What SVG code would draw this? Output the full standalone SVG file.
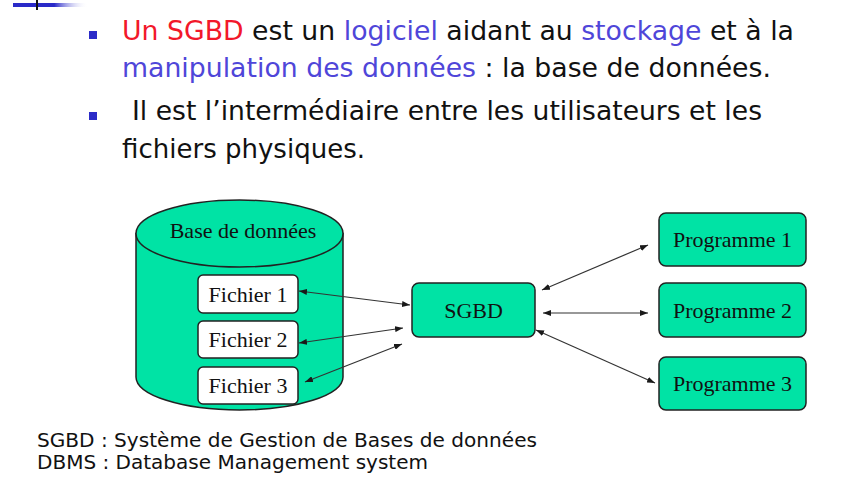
<svg xmlns="http://www.w3.org/2000/svg" width="848" height="488" viewBox="0 0 848 488">
<defs>
  <linearGradient id="barGrad" x1="0" y1="0" x2="1" y2="0">
    <stop offset="0" stop-color="#2a2ac8"/>
    <stop offset="0.55" stop-color="#2a2ac8"/>
    <stop offset="1" stop-color="#ffffff" stop-opacity="0"/>
  </linearGradient>
  <marker id="ah" viewBox="0 0 8 6" markerWidth="8" markerHeight="6" refX="8" refY="3" orient="auto-start-reverse" markerUnits="userSpaceOnUse">
    <path d="M0,0 L8,3 L0,6 Z" fill="#1a1a1a"/>
  </marker>
</defs>
<style>
  .slide { font-family: "DejaVu Sans", "Liberation Sans", sans-serif; font-size: 27px; fill: #111; }
  .hl { fill: #4f46d9; }
  .red { fill: #f2182a; }
  .bullet { fill: #2c2cc8; }
  .node { fill: #00e3a5; stroke: #222; stroke-width: 1.5; }
  .file { fill: #ffffff; stroke: #222; stroke-width: 1.5; }
  .lbl { font-family: "Liberation Serif", "Times New Roman", serif; font-size: 22px; fill: #111; text-anchor: middle; }
  .conn line { stroke: #333; stroke-width: 1.2; marker-start: url(#ah); marker-end: url(#ah); }
  .foot { font-family: "DejaVu Sans", "Liberation Sans", sans-serif; font-size: 19px; fill: #111; }
</style>
<rect width="848" height="488" fill="#ffffff"/>

<!-- slide decoration -->
<rect x="13" y="3" width="75" height="4" fill="url(#barGrad)"/>
<rect x="36" y="0" width="2" height="10" fill="#111"/>

<!-- bullet text -->
<rect class="bullet" x="89" y="31" width="8" height="8"/>
<text class="slide" x="122" y="40" textLength="672" lengthAdjust="spacingAndGlyphs"><tspan class="red">Un SGBD</tspan> est un <tspan class="hl">logiciel</tspan> aidant au <tspan class="hl">stockage</tspan> et à la</text>
<text class="slide" x="122" y="77" textLength="649" lengthAdjust="spacingAndGlyphs"><tspan class="hl">manipulation des données</tspan> : la base de données.</text>
<rect class="bullet" x="89" y="112" width="8" height="8"/>
<text class="slide" x="132" y="120" textLength="630" lengthAdjust="spacingAndGlyphs">Il est l’intermédiaire entre les utilisateurs et les</text>
<text class="slide" x="122" y="158" textLength="243" lengthAdjust="spacingAndGlyphs">fichiers physiques.</text>

<!-- database cylinder -->
<g id="base-de-donnees">
  <path class="node" d="M136,233.5 V377 A103.5,33 0 0 0 343,377 V233.5 Z"/>
  <ellipse class="node" cx="239.5" cy="233.5" rx="103.5" ry="33.5"/>
  <text class="lbl" x="243" y="238">Base de données</text>
</g>
<g id="fichier1">
  <rect class="file" x="198" y="275" width="100" height="38" rx="5"/>
  <text class="lbl" x="248" y="302">Fichier 1</text>
</g>
<g id="fichier2">
  <rect class="file" x="198" y="321" width="100" height="37" rx="5"/>
  <text class="lbl" x="248" y="347">Fichier 2</text>
</g>
<g id="fichier3">
  <rect class="file" x="198" y="367" width="100" height="37" rx="5"/>
  <text class="lbl" x="248" y="393">Fichier 3</text>
</g>

<g id="sgbd">
  <rect class="node" x="412" y="283" width="123" height="54" rx="7"/>
  <text class="lbl" x="473.5" y="318">SGBD</text>
</g>
<g id="programme1">
  <rect class="node" x="659" y="213" width="147" height="53" rx="7"/>
  <text class="lbl" x="732.5" y="247">Programme 1</text>
</g>
<g id="programme2">
  <rect class="node" x="659" y="283" width="147" height="54" rx="7"/>
  <text class="lbl" x="732.5" y="318">Programme 2</text>
</g>
<g id="programme3">
  <rect class="node" x="659" y="357" width="147" height="53" rx="7"/>
  <text class="lbl" x="732.5" y="391">Programme 3</text>
</g>

<g id="connectors" class="conn">
  <line x1="299" y1="291" x2="410" y2="305"/>
  <line x1="299" y1="343" x2="403" y2="328"/>
  <line x1="305" y1="382" x2="402" y2="344"/>
  <line x1="542" y1="290" x2="648" y2="245"/>
  <line x1="543" y1="313" x2="648" y2="313"/>
  <line x1="536" y1="330" x2="655" y2="383"/>
</g>

<!-- footnotes -->
<text class="foot" x="37" y="447" textLength="500" lengthAdjust="spacingAndGlyphs">SGBD : Système de Gestion de Bases de données</text>
<text class="foot" x="37" y="469" textLength="391" lengthAdjust="spacingAndGlyphs">DBMS : Database Management system</text>
</svg>
